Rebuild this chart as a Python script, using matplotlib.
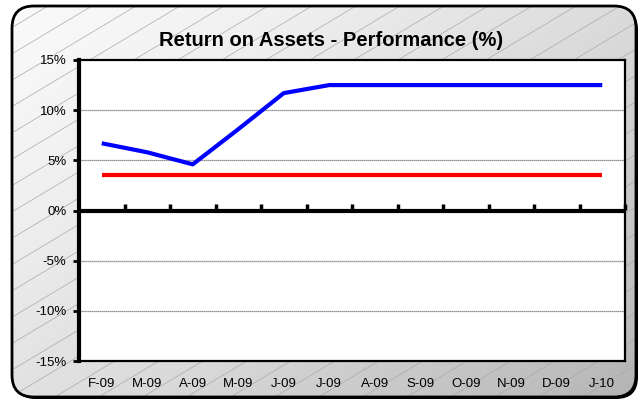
import numpy as np
import matplotlib.pyplot as plt
from matplotlib.patches import FancyBboxPatch
from matplotlib.ticker import FuncFormatter

plt.rcParams['font.family'] = ['Liberation Sans', 'DejaVu Sans']

# Data
months = ['F-09', 'M-09', 'A-09', 'M-09', 'J-09', 'J-09',
          'A-09', 'S-09', 'O-09', 'N-09', 'D-09', 'J-10']
roa = [6.7, 5.8, 4.6, 8.1, 11.7, 12.5, 12.5, 12.5, 12.5, 12.5, 12.5, 12.5]
target = [3.5] * 12

fig = plt.figure(figsize=(6.4, 4.01), dpi=100)

# background panel: gradient + diagonal hatch, rounded border
bg = fig.add_axes([0, 0, 1, 1])
bg.set_xlim(0, 640)
bg.set_ylim(401, 0)
bg.axis('off')

shadow = FancyBboxPatch((14, 8), 624, 391, boxstyle='round,pad=0,rounding_size=22',
                        fc='black', ec='none', zorder=0)
bg.add_patch(shadow)
panel = FancyBboxPatch((12, 6), 624, 391, boxstyle='round,pad=0,rounding_size=22',
                       fc='none', ec='black', lw=2, zorder=3)
bg.add_patch(panel)

gx, gy = np.meshgrid(np.linspace(0, 1, 320), np.linspace(0, 1, 200))
grad = gx * 0.55 + gy * 0.45
img = bg.imshow(grad, extent=[12, 636, 397, 6], cmap='Greys', vmin=-0.1, vmax=2.6,
                aspect='auto', zorder=1)
img.set_clip_path(panel)

# diagonal hatch, slope about 0.6
for x0 in np.arange(-700, 700, 44):
    ln, = bg.plot([x0, x0 + 670], [401, 0], color='#aaaaaa', lw=0.5, zorder=2)
    ln.set_clip_path(panel)

fig.text(331 / 640, 1 - 41 / 401, 'Return on Assets - Performance (%)',
         ha='center', va='center', fontsize=14.5, fontweight='bold')

# main chart
ax = fig.add_axes([79 / 640, 1 - 361 / 401, 546 / 640, 301 / 401])
ax.set_facecolor('white')
x = np.arange(len(months))
ax.plot(x, target, color='#ff0000', lw=3, solid_capstyle='butt', zorder=3)
ax.plot(x, roa, color='#0000ff', lw=3, solid_capstyle='butt', zorder=4)

ax.set_xlim(-0.5, len(months) - 0.5)
ax.set_ylim(-15, 15)
ax.set_yticks(np.arange(-15, 16, 5))
ax.yaxis.set_major_formatter(FuncFormatter(lambda v, p: f'{v:.0f}%'))
ax.set_xticks(x)
ax.set_xticklabels(months)
ax.tick_params(axis='x', length=0, pad=12, labelsize=9.5)
ax.tick_params(axis='y', direction='out', length=4, width=2, pad=5, labelsize=9.5)

for v in [-10, -5, 5, 10]:
    ax.axhline(v, color='#707070', lw=0.9, dashes=(1, 0.6), zorder=1)

ax.spines['left'].set_linewidth(3)
for s in ['top', 'right', 'bottom']:
    ax.spines[s].set_linewidth(1.6)

# zero axis with category-boundary ticks
ax.axhline(0, color='black', lw=3, zorder=5)
zero = ax.secondary_xaxis(0.5)
zero.set_xticks(np.arange(0.5, len(months), 1))
zero.set_xticklabels([])
zero.tick_params(direction='out', length=4, width=2.5)

fig.savefig('out.png', dpi=100)
